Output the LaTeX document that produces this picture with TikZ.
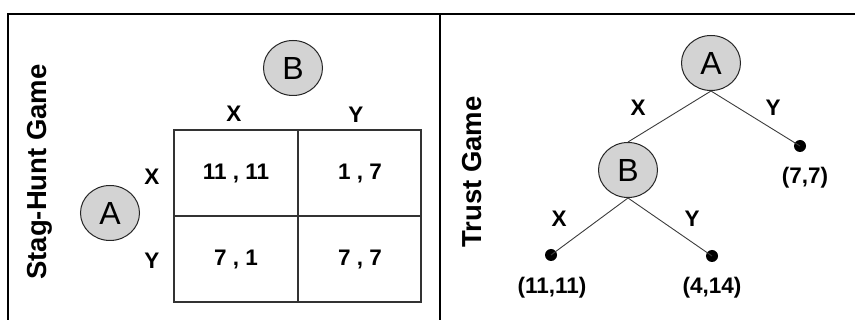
\documentclass[tikz,border=0pt]{standalone}
\usepackage{fontspec}
\setmainfont{Liberation Sans}
\usetikzlibrary{shapes.geometric}
\definecolor{playerfill}{RGB}{211,211,211}
\definecolor{edgegray}{RGB}{60,60,60}
\tikzset{
  player/.style={ellipse, draw=black!85, line width=1pt, fill=playerfill,
    minimum width=59pt, minimum height=55pt, inner sep=0pt,
    font=\fontsize{32}{32}\selectfont},
  lbl/.style={font=\fontsize{22.5}{22.5}\selectfont\bfseries, inner sep=0pt},
  title/.style={font=\fontsize{27.5}{27.5}\selectfont\bfseries, rotate=90, inner sep=0pt},
  frame/.style={line width=2pt, black},
  grid/.style={line width=1.6pt, black!80},
  branch/.style={line width=0.9pt, edgegray},
  leaf/.style={circle, fill=black, minimum size=12pt, inner sep=0pt}
}
\begin{document}
\begin{tikzpicture}[x=1pt, y=-1pt]
\useasboundingbox (0,0) rectangle (855,320);
% frame
\draw[frame] (8,320) -- (8,14) -- (856,14);
\draw[frame] (440,14) -- (440,320);

% ---- left panel: Stag-Hunt Game
\node[title] (sh) at (40,172) {Stag-Hunt Game};
\node[player] (pB) at (293,68) {B};
\node[player] (pA) at (110,213) {A};
\draw[grid] (174,130) rectangle (421,302);
\draw[grid] (298,130) -- (298,302);
\draw[grid] (174,216) -- (421,216);
\node[lbl] (cx) at (234,114) {X};
\node[lbl] (cy) at (356,115) {Y};
\node[lbl] (rx) at (152,177) {X};
\node[lbl] (ry) at (152,261) {Y};
\node[lbl] (c11) at (236,174) {11 , 11};
\node[lbl] (c12) at (360,174) {1 , 7};
\node[lbl] (c21) at (236,260) {7 , 1};
\node[lbl] (c22) at (360,260) {7 , 7};

% ---- right panel: Trust Game
\node[title] (tg) at (472,172) {Trust Game};
\node[player] (tA) at (711,63) {A};
\node[player] (tB) at (628,170) {B};
\node[leaf] (d77) at (800,146) {};
\node[leaf] (d1111) at (551,255) {};
\node[leaf] (d414) at (712,256) {};
\draw[branch] (tA.south) -- (tB.north);
\draw[branch] (tA.south) -- (d77.center);
\draw[branch] (tB.south) -- (d1111.center);
\draw[branch] (tB.south) -- (d414.center);
\node[lbl] (ax) at (638,108) {X};
\node[lbl] (ay) at (773,108) {Y};
\node[lbl] (bx) at (559,219) {X};
\node[lbl] (by) at (692,219) {Y};
\node[lbl] (p77) at (805,178) {(7,7)};
\node[lbl] (p1111) at (552,288) {(11,11)};
\node[lbl] (p414) at (712,288) {(4,14)};
\end{tikzpicture}
\end{document}
